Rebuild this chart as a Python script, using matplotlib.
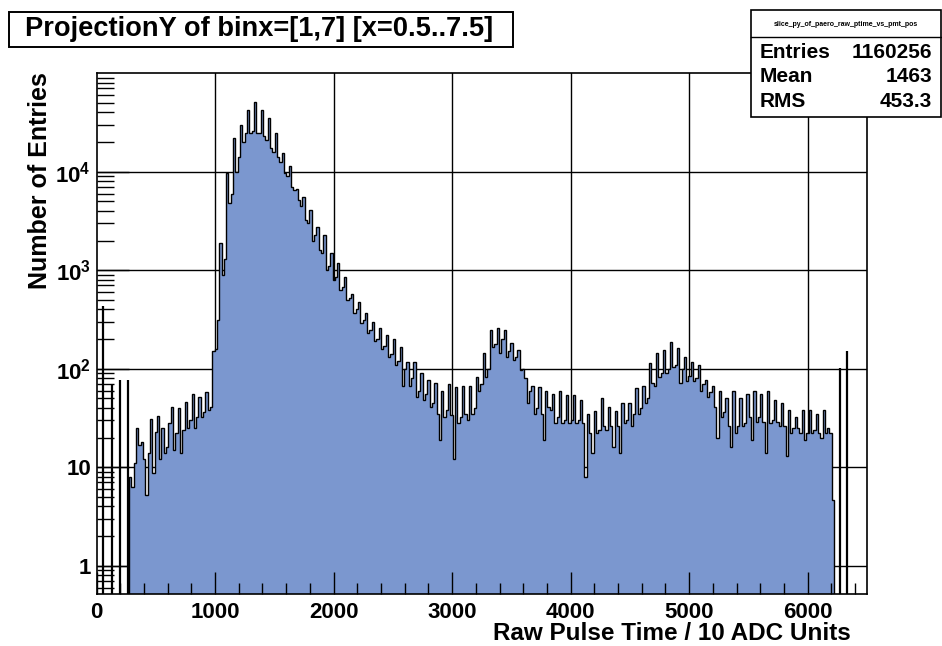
import numpy as np
import matplotlib
matplotlib.use('Agg')
from matplotlib import pyplot as plt
from matplotlib.ticker import MultipleLocator, FixedLocator, FixedFormatter, LogLocator, NullFormatter
from matplotlib.patches import Rectangle

plt.rcParams['font.family'] = ['Liberation Sans', 'DejaVu Sans']
plt.rcParams['font.weight'] = 'bold'
plt.rcParams['mathtext.fontset'] = 'custom'
plt.rcParams['mathtext.rm'] = 'Liberation Sans:bold'
plt.rcParams['mathtext.it'] = 'Liberation Sans:bold'
plt.rcParams['mathtext.bf'] = 'Liberation Sans:bold'

# binning of the main body (pulse time / 10 ADC units)
bin_lo, bin_w = 275, 19.5

# bin contents, three bins per row
counts = [
    8, 6.3, 11,
    25, 17, 18,
    12, 5.2, 14,
    31, 8.7, 23,
    33, 12, 25,
    14, 16, 28,
    41, 15, 22,
    40, 14, 24,
    46, 25, 30,
    56, 25, 32,
    52, 32, 36,
    58, 38, 41,
    150, 160, 310,
    1900, 900, 1300,
    9600, 4800, 6000,
    21800, 10000, 14000,
    30000, 20000, 24500,
    42000, 24500, 26000,
    51000, 24500, 25000,
    42000, 23000, 21000,
    35000, 17300, 16000,
    24500, 14000, 12500,
    15500, 9600, 9000,
    11300, 7000, 6500,
    6600, 5200, 4500,
    5600, 3200, 3000,
    4100, 2000, 2300,
    2760, 1600, 1500,
    2290, 1000, 1100,
    1500, 790, 850,
    1190, 630, 680,
    860, 500, 520,
    580, 370, 400,
    480, 290, 310,
    370, 230, 250,
    300, 190, 200,
    260, 160, 170,
    220, 130, 140,
    200, 110, 120,
    168, 66, 100,
    117, 66, 80,
    117, 52, 60,
    90, 48, 55,
    77, 41, 45,
    72, 35, 19,
    60, 32, 38,
    70, 34, 12,
    65, 28, 32,
    66, 35, 30,
    66, 35, 40,
    83, 60, 70,
    144, 83, 100,
    248, 168, 180,
    260, 144, 200,
    248, 133, 150,
    182, 122, 130,
    155, 97, 100,
    80, 45, 60,
    66, 35, 40,
    65, 35, 19,
    60, 41, 38,
    56, 28, 32,
    60, 28, 30,
    54, 28, 30,
    54, 28, 30,
    48, 28, 8,
    35, 22, 14,
    37, 22, 24,
    50, 26, 24,
    41, 26, 16,
    37, 26, 14,
    45, 28, 30,
    45, 26, 35,
    63, 35, 40,
    66, 45, 50,
    114, 71, 66,
    144, 83, 90,
    155, 90, 100,
    188, 105, 110,
    162, 71, 100,
    133, 75, 85,
    117, 75, 80,
    109, 60, 70,
    77, 52, 58,
    66, 41, 20,
    60, 32, 36,
    51, 26, 16,
    60, 22, 26,
    51, 26, 28,
    56, 32, 19,
    60, 29, 32,
    56, 29, 14,
    60, 28, 30,
    48, 29, 26,
    45, 26, 13,
    38, 22, 25,
    32, 25, 22,
    38, 19, 22,
    38, 22, 24,
    35, 22, 20,
    38, 22, 25,
    22, 4.6,
]

# isolated single-bin spikes outside the main body
spike_x = [55, 128, 198, 263, 6272, 6334]
spike_y = [430, 68, 77, 77, 101, 150]

stats_name = 'slice_py_of_paero_raw_ptime_vs_pmt_pos'
stats_rows = [('Entries', '1160256'), ('Mean', '1463'), ('RMS', '453.3')]

fill_color = '#7b97cf'

W, H = 942, 646
fig = plt.figure(figsize=(W / 100, H / 100), dpi=100)
ax = fig.add_axes([96.5 / W, 1 - 594 / H, (867 - 96.5) / W, (594 - 73.3) / H])

ax.set_yscale('log')
ax.set_xlim(0, 6500)
ax.set_ylim(0.516, 99800)

ax.xaxis.set_major_locator(MultipleLocator(1000))
ax.xaxis.set_minor_locator(MultipleLocator(200))
ax.yaxis.set_major_locator(FixedLocator([1, 10, 100, 1000, 10000]))
ax.yaxis.set_major_formatter(FixedFormatter(['1', '10', '$10^{2}$', '$10^{3}$', '$10^{4}$']))
ax.yaxis.set_minor_locator(LogLocator(base=10, subs=np.arange(2, 10), numticks=20))
ax.yaxis.set_minor_formatter(NullFormatter())

# grid behind the histogram, ticks on top of it
for xv in ax.xaxis.get_majorticklocs():
    if 0 < xv < 6500:
        ax.axvline(xv, color='black', lw=1.0, zorder=1)
for yv in ax.yaxis.get_majorticklocs():
    ax.axhline(yv, color='black', lw=1.0, zorder=1)

edges = bin_lo + bin_w * np.arange(len(counts) + 1)
ax.stairs(counts, edges, fill=True, baseline=0.1, color=fill_color, zorder=2)
ax.stairs(counts, edges, baseline=0.1, color='black', lw=1.0, zorder=3)
ax.vlines(spike_x, 0.1, spike_y, color='black', lw=1.6, zorder=3)

ax.tick_params(axis='x', which='major', direction='in', length=16, width=1, labelsize=16, pad=6,
               top=False)
ax.tick_params(axis='x', which='minor', direction='in', length=8, width=1, top=False)
ax.tick_params(axis='y', which='major', direction='in', length=23, width=1, labelsize=16, pad=4,
               right=False)
ax.tick_params(axis='y', which='minor', direction='in', length=12, width=1, right=False)
ax.set_axisbelow(False)
for s in ax.spines.values():
    s.set_linewidth(1.2)
    s.set_zorder(5)

fig.text(851 / W, 1 - 633 / H, 'Raw Pulse Time / 10 ADC Units', ha='right', va='center',
         fontsize=17.5, fontweight='bold')
fig.text(40 / W, 1 - 72 / H, 'Number of Entries', rotation=90, ha='center', va='top',
         fontsize=18, fontweight='bold')

# title box
fig.patches.append(Rectangle((9 / W, 1 - 47 / H), (513 - 9) / W, (47 - 11.5) / H,
                             transform=fig.transFigure, facecolor='white', edgecolor='black',
                             lw=1.4))
fig.text(259 / W, 1 - 29.5 / H, 'ProjectionY of binx=[1,7] [x=0.5..7.5]', ha='center',
         va='center', fontsize=19.6, fontweight='bold')

# stats box
fig.patches.append(Rectangle((751 / W, 1 - 117 / H), (941 - 751) / W, (117 - 10.5) / H,
                             transform=fig.transFigure, facecolor='white', edgecolor='black',
                             lw=1.2, zorder=10))
fig.add_artist(plt.Line2D([751 / W, 941 / W], [1 - 37 / H, 1 - 37 / H], color='black', lw=1.0,
                          transform=fig.transFigure, zorder=11))
fig.text(846 / W, 1 - 24 / H, stats_name, ha='center', va='center', fontsize=5, zorder=12)
for i, (k, v) in enumerate(stats_rows):
    yb = 1 - (58 + 24.5 * i) / H
    fig.text(760 / W, yb, k, ha='left', va='baseline', fontsize=15, fontweight='bold', zorder=12)
    fig.text(932 / W, yb, v, ha='right', va='baseline', fontsize=15, fontweight='bold', zorder=12)

fig.savefig('out.png', dpi=100, facecolor='white')
